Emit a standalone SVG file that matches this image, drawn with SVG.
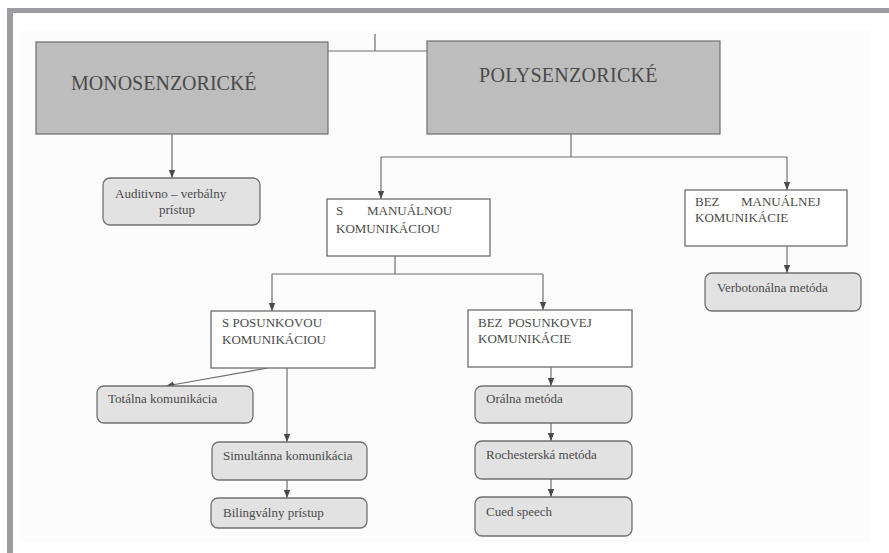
<svg xmlns="http://www.w3.org/2000/svg" width="889" height="553" viewBox="0 0 889 553">
<style>
.main{fill:#bdbdbd;stroke:#6e6e6e;stroke-width:1.2}
.hdr{fill:#ffffff;stroke:#6e6e6e;stroke-width:1.3}
.leaf{fill:#e2e2e2;stroke:#707070;stroke-width:1.3}
.t{fill:#4a4a4a;font-size:13px}
.big{fill:#4a4a4a;font-size:20px}
.c{fill:none;stroke:#6e6e6e;stroke-width:1.2}
</style>
<defs>
<marker id="ah" markerUnits="userSpaceOnUse" markerWidth="8" markerHeight="8" viewBox="0 0 8 8" refX="8" refY="4" orient="auto">
<path d="M0,0.8 L8,4 L0,7.2 Z" fill="#4a4a4a"/>
</marker>
</defs>
<rect x="0" y="0" width="889" height="553" fill="#ffffff"/>
<rect x="20" y="30" width="850" height="512" fill="#fcfcfc"/>
<g id="frame">
<rect x="7" y="8" width="882" height="5" fill="#9c9ba0"/>
<rect x="7" y="8" width="6" height="545" fill="#9c9ba0"/>
</g>
<g id="connectors">
<path class="c" d="M328,51 H427 M375,34 V51"/>
<path class="c" d="M172,134 V178" marker-end="url(#ah)"/>
<path class="c" d="M571,134 V157 M381,157 H787"/>
<path class="c" d="M381,157 V199" marker-end="url(#ah)"/>
<path class="c" d="M787,157 V190" marker-end="url(#ah)"/>
<path class="c" d="M395,256 V274 M272,274 H543"/>
<path class="c" d="M272,274 V311" marker-end="url(#ah)"/>
<path class="c" d="M543,274 V310" marker-end="url(#ah)"/>
<path class="c" d="M787,246 V273" marker-end="url(#ah)"/>
<path class="c" d="M268,368 L166,386" marker-end="url(#ah)"/>
<path class="c" d="M287,368 V442" marker-end="url(#ah)"/>
<path class="c" d="M287,480 V498" marker-end="url(#ah)"/>
<path class="c" d="M551,367 V386" marker-end="url(#ah)"/>
<path class="c" d="M551,423 V441" marker-end="url(#ah)"/>
<path class="c" d="M551,479 V497" marker-end="url(#ah)"/>
</g>
<g font-family="'Liberation Serif', 'DejaVu Serif', 'Times New Roman', serif">
<g id="mono">
<rect class="main" x="36" y="42" width="292" height="92"/>
<text class="big" x="71" y="90">MONOSENZORICKÉ</text>
</g>
<g id="poly">
<rect class="main" x="427" y="41" width="293" height="93"/>
<text class="big" x="479" y="82" letter-spacing="0.3">POLYSENZORICKÉ</text>
</g>
<g id="auditivno">
<rect class="leaf" x="103" y="178" width="157" height="47" rx="7"/>
<text class="t" x="115" y="198">Auditivno – verbálny</text>
<text class="t" x="159" y="214">prístup</text>
</g>
<g id="s-manualnou">
<rect class="hdr" x="327" y="199" width="163" height="57"/>
<text class="t" y="215"><tspan x="336">S</tspan><tspan x="367">MANUÁLNOU</tspan></text>
<text class="t" x="336" y="233">KOMUNIKÁCIOU</text>
</g>
<g id="bez-manualnej">
<rect class="hdr" x="685" y="190" width="162" height="56"/>
<text class="t" y="206"><tspan x="695">BEZ</tspan><tspan x="741">MANUÁLNEJ</tspan></text>
<text class="t" x="695" y="222">KOMUNIKÁCIE</text>
</g>
<g id="verbotonalna">
<rect class="leaf" x="705" y="273" width="156" height="38" rx="7"/>
<text class="t" x="717" y="292">Verbotonálna metóda</text>
</g>
<g id="s-posunkovou">
<rect class="hdr" x="211" y="311" width="164" height="57"/>
<text class="t" x="222" y="327">S POSUNKOVOU</text>
<text class="t" x="222" y="344">KOMUNIKÁCIOU</text>
</g>
<g id="bez-posunkovej">
<rect class="hdr" x="468" y="310" width="164" height="57"/>
<text class="t" y="327"><tspan x="478">BEZ</tspan><tspan x="508">POSUNKOVEJ</tspan></text>
<text class="t" x="478" y="343">KOMUNIKÁCIE</text>
</g>
<g id="totalna">
<rect class="leaf" x="97" y="386" width="156" height="37" rx="7"/>
<text class="t" x="108" y="403">Totálna komunikácia</text>
</g>
<g id="simultanna">
<rect class="leaf" x="212" y="442" width="155" height="38" rx="7"/>
<text class="t" x="223" y="460">Simultánna komunikácia</text>
</g>
<g id="bilingvalny">
<rect class="leaf" x="211" y="498" width="156" height="30" rx="7"/>
<text class="t" x="223" y="517">Bilingválny prístup</text>
</g>
<g id="oralna">
<rect class="leaf" x="475" y="386" width="157" height="37" rx="7"/>
<text class="t" x="486" y="403">Orálna metóda</text>
</g>
<g id="rochesterska">
<rect class="leaf" x="475" y="441" width="157" height="38" rx="7"/>
<text class="t" x="486" y="459">Rochesterská metóda</text>
</g>
<g id="cued">
<rect class="leaf" x="475" y="497" width="157" height="39" rx="7"/>
<text class="t" x="486" y="516">Cued speech</text>
</g>
</g>
</svg>
